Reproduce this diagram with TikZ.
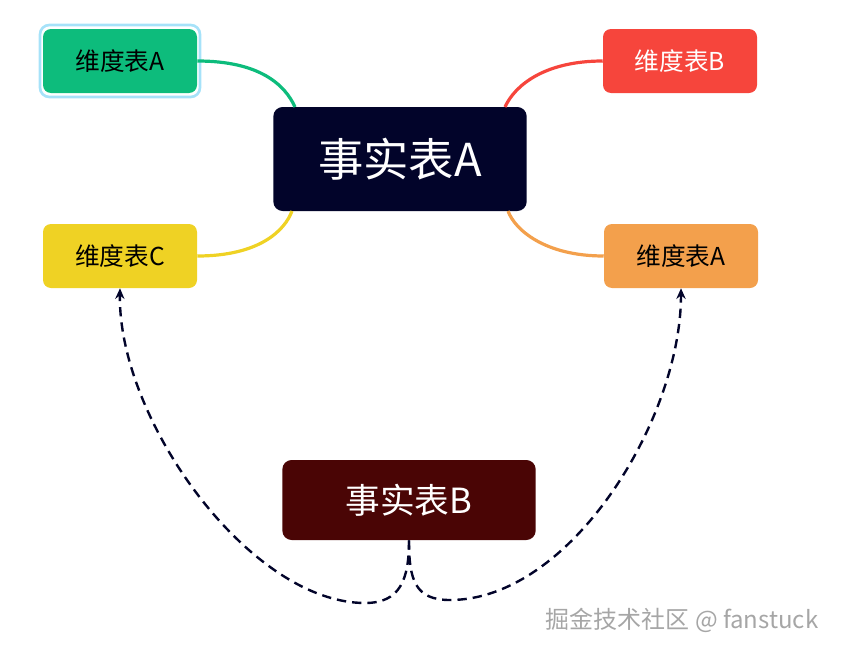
\documentclass[tikz,border=0pt]{standalone}
\usepackage{fontspec}
\setmainfont{Noto Sans CJK SC}
\usetikzlibrary{arrows.meta}
\definecolor{cgreen}{HTML}{0DBC7C}
\definecolor{cred}{HTML}{F6453C}
\definecolor{cyellow}{HTML}{EFD224}
\definecolor{corange}{HTML}{F3A04C}
\definecolor{cnavy}{HTML}{02042A}
\definecolor{cbrown}{HTML}{4A0505}
\begin{document}
\begin{tikzpicture}[x=0.75pt,y=-0.75pt,
  dim/.style={rounded corners=6pt,minimum width=115.5pt,minimum height=48pt,font=\fontsize{18.5}{20}\selectfont,inner sep=0pt},
  fact/.style={rounded corners=7pt,text=white,inner sep=0pt},
  link/.style={line width=2.4pt},
  dep/.style={line width=1.8pt,dash pattern=on 7pt off 4.5pt,color=cnavy,-{Stealth[length=8pt,width=7pt]}}]
\useasboundingbox (0,0) rectangle (846,653);
\node[draw=cyan!35,line width=2pt,rounded corners=7pt,minimum width=120pt,minimum height=54pt] (sel) at (120,61) {};
\node[dim,fill=cgreen] (da) at (120,61) {维度表A};
\node[dim,fill=cred,text=white] (db) at (680,61) {维度表B};
\node[dim,fill=cyellow] (dc) at (120,256) {维度表C};
\node[dim,fill=corange] (dd) at (681,256) {维度表A};
\node[fact,fill=cnavy,minimum width=190pt,minimum height=78pt,font=\fontsize{34}{38}\selectfont] (fa) at (400,159) {事实表A};
\node[fact,fill=cbrown,minimum width=190pt,minimum height=60pt,font=\fontsize{26}{30}\selectfont] (fb) at (409,500) {事实表B};
\draw[link,cgreen] (da.east) .. controls (260,61) and (285,85) .. (295,107);
\draw[link,cred] (db.west) .. controls (545,61) and (515,85) .. (505,107);
\draw[link,cyellow] (dc.east) .. controls (260,256) and (285,230) .. (292,211);
\draw[link,corange] (dd.west) .. controls (545,256) and (515,230) .. (508,211);
\draw[dep] (fb.south) .. controls (409,580) and (400,603) .. (365,603)
  .. controls (250,603) and (118,420) .. (dc.south);
\draw[dep] (fb.south) .. controls (409,580) and (415,600) .. (450,600)
  .. controls (570,600) and (681,420) .. (dd.south);
\node[text=gray!70,font=\fontsize{18}{20}\selectfont] (wm) at (682,620) {掘金技术社区 @ fanstuck};
\end{tikzpicture}
\end{document}
